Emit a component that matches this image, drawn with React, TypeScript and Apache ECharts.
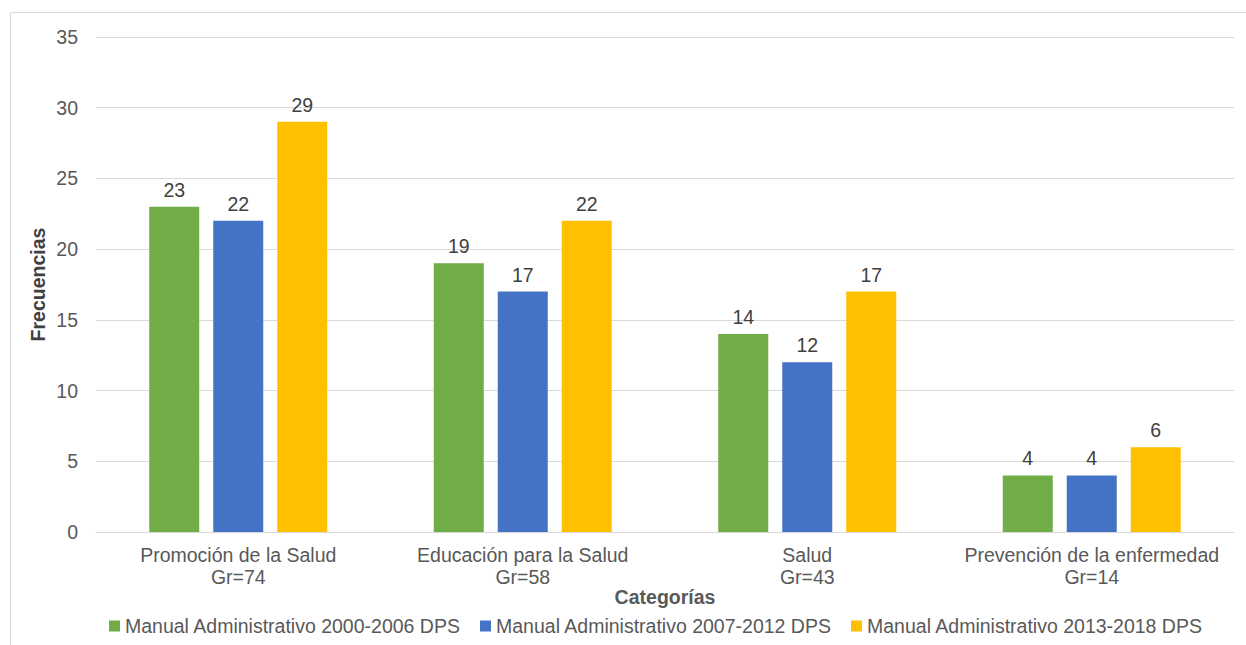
import React, { useEffect, useRef } from "react";
import * as echarts from "echarts";

const categories = [
  "Promoción de la Salud\nGr=74",
  "Educación para la Salud\nGr=58",
  "Salud\nGr=43",
  "Prevención de la enfermedad\nGr=14",
];
const seriesNames = [
  "Manual Administrativo 2000-2006 DPS",
  "Manual Administrativo 2007-2012 DPS",
  "Manual Administrativo 2013-2018 DPS",
];
const values2000 = [23, 19, 14, 4];
const values2007 = [22, 17, 12, 4];
const values2013 = [29, 22, 17, 6];
const colors = ["#70ad47", "#4472c4", "#ffc000"];

export default function App() {
  const ref = useRef<HTMLDivElement>(null);
  useEffect(() => {
    if (!ref.current) return;
    const chart = echarts.init(ref.current, undefined, { renderer: "svg" });
    const font = "Liberation Sans, Arial, sans-serif";
    const fs = 19.5;
    const allValues = [values2000, values2007, values2013];
    chart.setOption({
      animation: false,
      textStyle: { fontFamily: font },
      graphic: [
        {
          type: "rect",
          shape: { x: 10.5, y: 12.5, width: 1260, height: 660 },
          style: { fill: "none", stroke: "#d9d9d9", lineWidth: 1 },
          silent: true,
        },
      ],
      grid: { left: 96, right: 12, top: 37, bottom: 113, containLabel: false },
      legend: {
        bottom: 4,
        left: 104,
        itemWidth: 11,
        itemHeight: 11,
        itemGap: 19,
        icon: "rect",
        textStyle: { fontSize: fs, color: "#595959", fontFamily: font },
        data: seriesNames,
      },
      xAxis: {
        type: "category",
        data: categories,
        name: "Categorías",
        nameLocation: "middle",
        nameGap: 55,
        nameMoveOverlap: false,
        nameTextStyle: { fontSize: fs, fontWeight: "bold", color: "#595959" },
        axisLine: { lineStyle: { color: "#d9d9d9" } },
        axisTick: { show: false },
        axisLabel: { interval: 0, fontSize: fs, color: "#595959", lineHeight: 22, margin: 12 },
      },
      yAxis: {
        type: "value",
        min: 0,
        max: 35,
        interval: 5,
        name: "Frecuencias",
        nameLocation: "middle",
        nameGap: 48,
        nameMoveOverlap: false,
        nameTextStyle: { fontSize: fs, fontWeight: "bold", color: "#404040" },
        axisLine: { show: false },
        axisTick: { show: false },
        axisLabel: { fontSize: fs, color: "#595959", margin: 18 },
        splitLine: { lineStyle: { color: "#d9d9d9" } },
      },
      series: seriesNames.map((name, i) => ({
        name,
        type: "bar",
        data: allValues[i],
        barWidth: 50,
        barGap: "28%",
        itemStyle: { color: colors[i] },
        label: {
          show: true,
          position: "top",
          distance: 7,
          fontSize: fs,
          color: "#404040",
        },
      })),
    });
    return () => chart.dispose();
  }, []);
  return (
    <div
      ref={ref}
      style={{ position: "fixed", left: 0, top: 0, width: 1246, height: 645, background: "#fff" }}
    />
  );
}
